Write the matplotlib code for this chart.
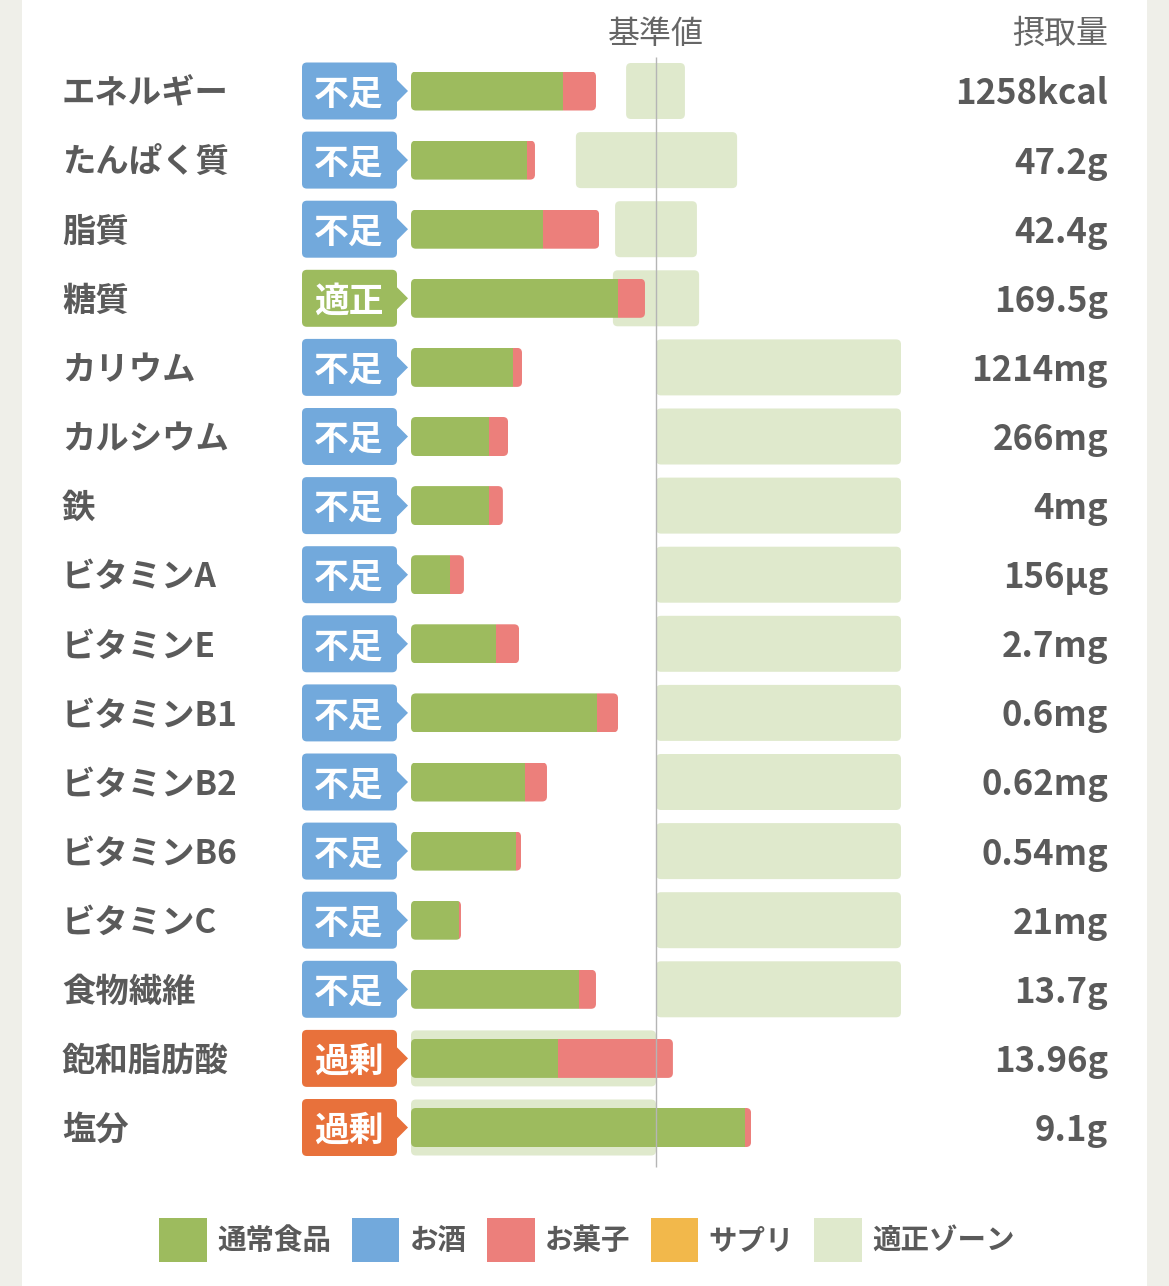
import matplotlib.pyplot as plt
from matplotlib.patches import FancyBboxPatch, Rectangle, Polygon, Patch

plt.rcParams['font.family'] = ['Noto Sans CJK JP', 'DejaVu Sans']

# nutrient rows, intake as % of the reference value
nutrients = ["エネルギー", "たんぱく質", "脂質", "糖質", "カリウム", "カルシウム", "鉄",
             "ビタミンA", "ビタミンE", "ビタミンB1", "ビタミンB2", "ビタミンB6",
             "ビタミンC", "食物繊維", "飽和脂肪酸", "塩分"]
status = ["不足", "不足", "不足", "適正", "不足", "不足", "不足", "不足",
          "不足", "不足", "不足", "不足", "不足", "不足", "過剰", "過剰"]
food_pct = [62.0, 47.3, 53.9, 84.5, 41.6, 31.8, 31.8, 15.9,
            34.7, 75.9, 46.5, 42.9, 19.6, 68.6, 60.0, 136.3]
snack_pct = [13.5, 3.3, 22.9, 11.0, 3.7, 7.8, 5.7, 5.7,
             9.4, 8.6, 9.0, 2.0, 0.8, 6.9, 46.9, 2.5]
zone_low = [87.8, 67.3, 83.3, 82.4, 100, 100, 100, 100,
            100, 100, 100, 100, 100, 100, 0, 0]
zone_high = [111.8, 133.1, 116.7, 117.6, 200, 200, 200, 200,
             200, 200, 200, 200, 200, 200, 100, 100]
intake = ["1258kcal", "47.2g", "42.4g", "169.5g", "1214mg", "266mg", "4mg", "156µg",
          "2.7mg", "0.6mg", "0.62mg", "0.54mg", "21mg", "13.7g", "13.96g", "9.1g"]
legend_labels = ["通常食品", "お酒", "お菓子", "サプリ", "適正ゾーン"]

GREEN = "#9dbb5e"
PINK = "#ec7f7b"
BLUE = "#72a9dc"
ORANGE = "#e8713b"
YELLOW = "#f2b84b"
ZONE = "#dfe9cc"
TEXT = "#5a5a5a"
badge_color = {"不足": BLUE, "適正": GREEN, "過剰": ORANGE}

# layout: figure in pixels, 0% at x=411px, 100% at x=656px
W, H = 1169, 1286
X0, SCALE = 411, 2.45
Y0, ROW = 91, 69.1
MA = SCALE / ROW          # mutation aspect so rounded corners stay round
R = 2.0                   # corner radius in % units (~5px)
DY = 3 / ROW              # text baseline nudge


def col(px):
    return (px - X0) / SCALE


fig = plt.figure(figsize=(W / 100, H / 100), dpi=100, facecolor="#efefe9")
ax = fig.add_axes([0, 0, 1, 1])
ax.set_xlim(col(0), col(W))
ax.set_ylim((H - Y0) / ROW, -Y0 / ROW)
ax.axis("off")
ax.add_patch(Rectangle((22 / W, 0), (1147 - 22) / W, 1, transform=ax.transAxes,
                       facecolor="white", edgecolor="none", zorder=0))


def rbox(x, y, w, h, color, z):
    p = FancyBboxPatch((x, y - h / 2), w, h, boxstyle=f"round,pad=0,rounding_size={R}",
                       mutation_aspect=MA, facecolor=color, edgecolor="none", zorder=z)
    ax.add_patch(p)
    return p


for i, name in enumerate(nutrients):
    # appropriate zone
    rbox(zone_low[i], i, zone_high[i] - zone_low[i], 56 / ROW, ZONE, 1)
    # stacked bar, both parts clipped to one rounded outline
    total = food_pct[i] + snack_pct[i]
    outline = rbox(0, i, total, 39 / ROW, "none", 2)
    g = ax.barh(i, food_pct[i], height=39 / ROW, color=GREEN, zorder=2)
    s = ax.barh(i, snack_pct[i], left=food_pct[i], height=39 / ROW, color=PINK, zorder=2)
    g[0].set_clip_path(outline)
    s[0].set_clip_path(outline)

    # status badge
    c = badge_color[status[i]]
    rbox(col(302), i, col(397) - col(302), 57 / ROW, c, 2)
    ax.add_patch(Polygon([(col(396), i - 12 / ROW), (col(408), i), (col(396), i + 12 / ROW)],
                         closed=True, facecolor=c, edgecolor="none", zorder=2))
    ax.text(col(349), i + DY, status[i], color="white", fontsize=25, fontweight="bold",
            ha="center", va="center", zorder=3)

    ax.text(col(62), i + DY, name, color=TEXT, fontsize=24, fontweight="bold",
            ha="left", va="center")
    ax.text(col(1108), i + DY, intake[i], color=TEXT, fontsize=25, fontweight="bold",
            ha="right", va="center")

# reference line
ax.vlines(100, (57 - Y0) / ROW, (1167 - Y0) / ROW, color="#b5b5b5", linewidth=1, zorder=4)

ax.text(100, (34 - Y0) / ROW, "基準値", color="#666666", fontsize=23, ha="center", va="center")
ax.text(col(1108), (34 - Y0) / ROW, "摂取量", color="#666666", fontsize=23, ha="right", va="center")

handles = [Patch(facecolor=c, edgecolor="none") for c in [GREEN, BLUE, PINK, YELLOW, ZONE]]
fig.legend(handles, legend_labels, loc="center", bbox_to_anchor=(587 / W, 1 - 1240 / H),
           ncol=5, frameon=False, handlelength=1.68, handleheight=1.95,
           handletextpad=0.35, columnspacing=0.72, labelcolor=TEXT,
           prop={"family": "Noto Sans CJK JP", "weight": "bold", "size": 20.5})

fig.savefig("out.png", dpi=100, facecolor=fig.get_facecolor())
